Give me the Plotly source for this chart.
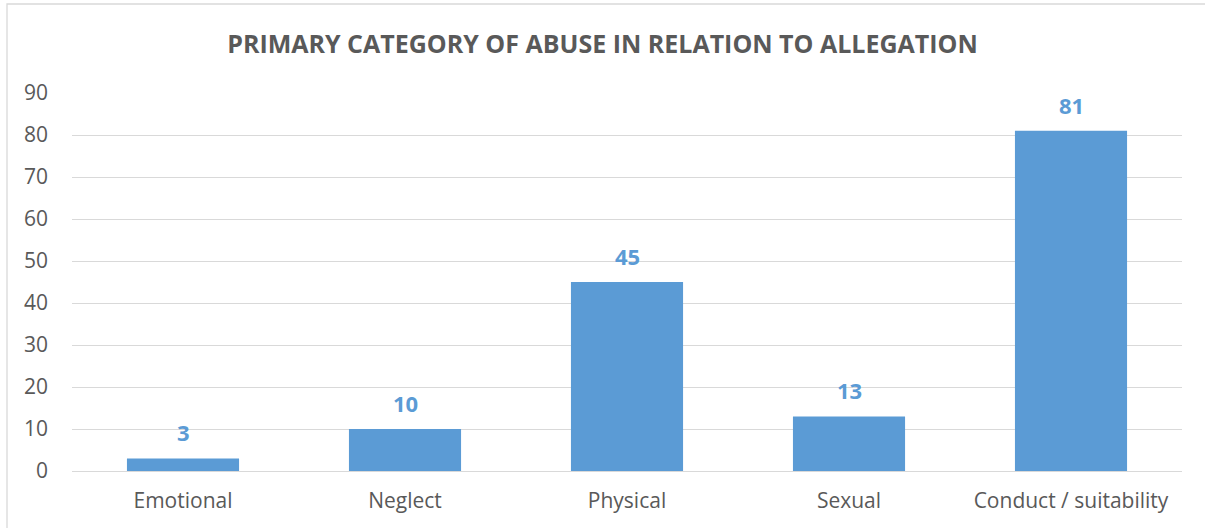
"""Bar chart: primary category of abuse in relation to allegation."""

import plotly.graph_objects as go

categories = ["Emotional", "Neglect", "Physical", "Sexual", "Conduct / suitability"]
counts = [3, 10, 45, 13, 81]
y_ticks = [0, 10, 20, 30, 40, 50, 60, 70, 80, 90]

BAR_BLUE = "#5B9BD5"
TEXT_GREY = "#595959"
GRID_GREY = "#D9D9D9"
FONT = "Open Sans, Liberation Sans, sans-serif"

fig = go.Figure(
    go.Bar(x=categories, y=counts, marker=dict(color=BAR_BLUE, line_width=0),
           width=0.505, hoverinfo="x+y")
)

# data labels sit above each bar
for cat, val in zip(categories, counts):
    fig.add_annotation(x=cat, y=val, text=f"<b>{val}</b>", showarrow=False,
                       yanchor="bottom", yshift=9,
                       font=dict(family=FONT, size=22, color=BAR_BLUE))

# light frame around the chart (only its left and top edges are in view)
fig.add_shape(type="rect", xref="paper", yref="paper",
              x0=(7 - 72) / 1110, x1=(1215 - 72) / 1110,
              y0=(471 - 540) / 378, y1=(471 - 4) / 378,
              line=dict(color=GRID_GREY, width=1.3), layer="below")

fig.update_layout(
    width=1205, height=528,
    title=dict(text="<b>PRIMARY CATEGORY OF ABUSE IN RELATION TO ALLEGATION</b>",
               x=0.5, xanchor="center", y=1 - 44 / 528, yanchor="middle",
               font=dict(family=FONT, size=25, color=TEXT_GREY)),
    font=dict(family=FONT, size=21, color=TEXT_GREY),
    plot_bgcolor="white", paper_bgcolor="white",
    margin=dict(l=72, r=23, t=93, b=57),
    showlegend=False,
    bargap=0.5,
)
fig.update_xaxes(showgrid=False, showline=False, ticks="",
                 ticklabelstandoff=15, tickfont=dict(size=21, color=TEXT_GREY))
fig.update_yaxes(range=[0, 90], tickvals=y_ticks, showgrid=True,
                 gridcolor=GRID_GREY, gridwidth=1.3, zeroline=True,
                 zerolinecolor=GRID_GREY, zerolinewidth=1.3, showline=False,
                 ticks="", ticklabelstandoff=23,
                 tickfont=dict(size=21, color=TEXT_GREY))

# page body has a default 8px margin; drop it so the figure sits at 0,0
fig.write_html("out.html", config={"displayModeBar": False},
               post_script="document.body.style.margin='0';")
